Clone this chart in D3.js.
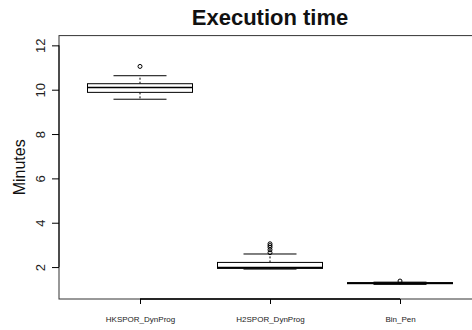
<!DOCTYPE html>
<html>
<head>
<meta charset="utf-8">
<script src="https://cdn.jsdelivr.net/npm/d3@7"></script>
<style>
  html, body { margin: 0; padding: 0; background: #fff; }
  svg { display: block; font-family: "Liberation Sans", Arial, sans-serif; }
</style>
</head>
<body>
<svg id="chart" width="472" height="330"></svg>
<script>
// ---- data ----
const categories = ["HKSPOR_DynProg", "H2SPOR_DynProg", "Bin_Pen"];
const lowerWhisker = [9.57, 1.91, 1.22];
const q1 = [9.88, 1.94, 1.25];
const median = [10.10, 1.98, 1.27];
const q3 = [10.27, 2.21, 1.30];
const upperWhisker = [10.63, 2.59, 1.32];
const outliers = [[11.05], [3.05, 2.97, 2.89, 2.78, 2.65], [1.37]];
const yTicks = [2, 4, 6, 8, 10, 12];
const title = "Execution time";
const yLabel = "Minutes";

// ---- layout ----
const svg = d3.select("#chart");
const mLeft = 59, mTop = 35.6, mBottom = 299, mRight = 490;

const y = d3.scaleLinear().domain([0.56, 12.44]).range([mBottom, mTop]);
const x = d3.scaleLinear().domain([1, 3]).range([140, 400]);
const boxW = 105, stapleW = 53;

// frame
svg.append("rect")
  .attr("x", mLeft).attr("y", mTop)
  .attr("width", mRight - mLeft).attr("height", mBottom - mTop)
  .attr("fill", "none").attr("stroke", "#333").attr("stroke-width", 1);

// y axis
const yAxis = d3.axisLeft(y).tickValues(yTicks).tickSize(7).tickFormat(d3.format("d"));
const gy = svg.append("g").attr("transform", `translate(${mLeft},0)`).call(yAxis);
gy.select(".domain").attr("d", `M0,${y(12)}V${y(2)}`).attr("stroke", "#000");
gy.selectAll(".tick line").attr("stroke", "#000");
gy.selectAll(".tick text")
  .attr("font-size", 13).attr("fill", "#222")
  .attr("x", 0).attr("y", 0).attr("dx", 0).attr("dy", 0)
  .attr("text-anchor", "middle")
  .attr("transform", "translate(-14,0) rotate(-90)");

// x axis
const xAxis = d3.axisBottom(x).tickValues([1, 2, 3]).tickSize(5)
  .tickFormat((d, i) => categories[i]);
const gx = svg.append("g").attr("transform", `translate(0,${mBottom})`).call(xAxis);
gx.select(".domain").attr("d", `M${x(1)},0H${x(3)}`).attr("stroke", "#000").attr("stroke-width", 1.3);
gx.selectAll(".tick line").attr("stroke", "#000");
gx.selectAll(".tick text").attr("font-size", 8).attr("fill", "#222").attr("y", 23).attr("dy", "0");

// y label
svg.append("text")
  .attr("transform", `translate(25,${(mTop + mBottom) / 2}) rotate(-90)`)
  .attr("text-anchor", "middle")
  .attr("font-size", 16).attr("fill", "#111")
  .text(yLabel);

// title
svg.append("text")
  .attr("x", 270).attr("y", 25)
  .attr("text-anchor", "middle")
  .attr("font-size", 22).attr("font-weight", "bold").attr("fill", "#111")
  .text(title);

// boxes
const g = svg.append("g");
categories.forEach((c, i) => {
  const cx = x(i + 1);
  g.append("line").attr("x1", cx).attr("x2", cx).attr("y1", y(q3[i])).attr("y2", y(upperWhisker[i]))
    .attr("stroke", "#000").attr("stroke-dasharray", "2,2");
  g.append("line").attr("x1", cx).attr("x2", cx).attr("y1", y(q1[i])).attr("y2", y(lowerWhisker[i]))
    .attr("stroke", "#000").attr("stroke-dasharray", "2,2");
  [upperWhisker[i], lowerWhisker[i]].forEach(v => {
    g.append("line").attr("x1", cx - stapleW / 2).attr("x2", cx + stapleW / 2)
      .attr("y1", y(v)).attr("y2", y(v)).attr("stroke", "#000");
  });
  g.append("rect")
    .attr("x", cx - boxW / 2).attr("y", y(q3[i]))
    .attr("width", boxW).attr("height", Math.max(0.5, y(q1[i]) - y(q3[i])))
    .attr("fill", "#fff").attr("stroke", "#000");
  g.append("line").attr("x1", cx - boxW / 2).attr("x2", cx + boxW / 2)
    .attr("y1", y(median[i])).attr("y2", y(median[i]))
    .attr("stroke", "#000").attr("stroke-width", 1.5);
  outliers[i].forEach(v => {
    g.append("circle").attr("cx", cx).attr("cy", y(v)).attr("r", 2)
      .attr("fill", "none").attr("stroke", "#000").attr("stroke-width", 1);
  });
});
</script>
</body>
</html>
